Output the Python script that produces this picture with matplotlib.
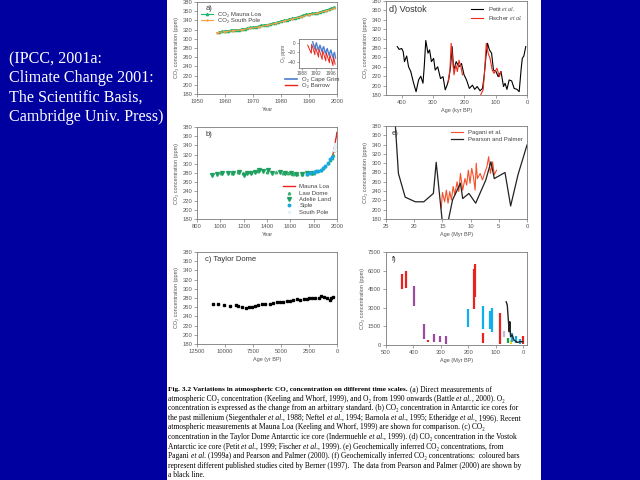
import re
import numpy as np
import matplotlib
matplotlib.use('Agg')
from matplotlib import pyplot as plt
from matplotlib.patches import Rectangle
from matplotlib.lines import Line2D
from matplotlib.text import Annotation

plt.rcParams['font.family'] = ['Liberation Sans', 'DejaVu Sans']
plt.rcParams['mathtext.fontset'] = 'custom'
plt.rcParams['mathtext.rm'] = 'Liberation Serif'
plt.rcParams['mathtext.it'] = 'Liberation Serif:italic'

# ---- (a) direct measurements
ml_year = [1958, 1959, 1960, 1961, 1962, 1963, 1964, 1965, 1966, 1967, 1968, 1969, 1970,
           1971, 1972, 1973, 1974, 1975, 1976, 1977, 1978, 1979, 1980, 1981, 1982, 1983,
           1984, 1985, 1986, 1987, 1988, 1989, 1990, 1991, 1992, 1993, 1994, 1995, 1996,
           1997, 1998, 1999]
ml_co2 = [315.3, 316.0, 316.9, 317.6, 318.4, 319.0, 319.6, 320.0, 321.4, 322.2, 323.0, 324.6,
          325.7, 326.3, 327.5, 329.7, 330.2, 331.0, 332.0, 333.8, 335.4, 336.8, 338.7, 340.1,
          341.4, 343.0, 344.6, 346.0, 347.4, 349.2, 351.6, 353.1, 354.4, 355.6, 356.4, 357.1,
          358.8, 360.9, 362.6, 363.8, 366.6, 368.3]
sp_year = [1957, 1960, 1963, 1966, 1969, 1972, 1975, 1978, 1981, 1984, 1987, 1990, 1993,
           1996, 1999]
sp_co2 = [313.5, 315.5, 317.8, 319.8, 322.8, 325.6, 329.4, 333.5, 338.5, 342.8, 347.4,
          352.4, 355.6, 360.4, 366.0]
o2_barrow_t = [1989.6, 1990.6, 1990.7, 1991.6, 1991.7, 1992.6, 1992.7, 1993.6, 1993.7,
               1994.6, 1994.7, 1995.6, 1995.7, 1996.6, 1996.7, 1997.2]
o2_barrow = [-5, -22, -3, -25, -8, -30, -12, -35, -15, -38, -20, -42, -24, -48, -28, -45]
o2_grim_t = [1991.0, 1991.5, 1992.0, 1992.5, 1993.0, 1993.5, 1994.0, 1994.5, 1995.0,
             1995.5, 1996.0, 1996.5, 1997.0, 1997.3]
o2_grim = [2, -12, 0, -15, -5, -18, -8, -22, -12, -26, -15, -30, -20, -32]

# ---- (b) last millennium
adelie_year = [932, 972, 1018, 1067, 1110, 1159, 1205, 1225, 1263, 1297, 1332, 1363, 1406,
               1447, 1513, 1556, 1607, 1648, 1700, 1742, 1786]
adelie_co2 = [275, 277, 279, 279, 280, 282.5, 275, 280, 280, 282.5, 286, 285, 286, 279,
              282, 281, 279, 277, 277, 279, 280]
law_year = [1006, 1100, 1150, 1190, 1250, 1320, 1400, 1480, 1540, 1580, 1620, 1660, 1700,
            1740, 1780, 1800, 1830, 1860, 1880, 1900, 1920, 1940, 1955, 1965, 1978]
law_co2 = [280, 281, 283, 281, 283, 284, 283, 282, 281, 280, 278, 277, 277, 277, 279, 281,
           284, 287, 291, 296, 301, 309, 313, 319, 331]
siple_year = [1744, 1770, 1800, 1820, 1840, 1860, 1880, 1900, 1920, 1940, 1953]
siple_co2 = [277, 280, 282, 284, 285, 287, 291, 296, 302, 310, 315]
spole_year = [1975, 1980, 1985]
spole_co2 = [330, 337, 344]

# ---- (c) Taylor Dome
taylor_age = [11065, 10616, 10108, 9510, 9031, 8822, 8523, 8134, 7835, 7566, 7327, 7027,
              6728, 6430, 5981, 5682, 5383, 5084, 4785, 4486, 4187, 3887, 3589, 3289, 2990,
              2691, 2482, 2243, 1944, 1645, 1405, 1196, 897, 658, 508, 389]
taylor_co2 = [266, 267, 265, 262, 264.5, 261.6, 261, 259, 260, 261, 263, 264.5, 267, 267,
              268, 270, 271, 272, 272, 273, 273, 274.6, 277, 275, 277, 278, 280, 279, 281,
              280, 284, 282.5, 279, 275, 280, 282.5]

# ---- (d) Vostok
petit_age = [414, 408, 400, 395, 391, 384, 378, 371, 363, 354, 346, 339, 332, 328, 323, 316,
             311, 305, 298, 293, 285, 276, 268, 261, 255, 250, 244, 239, 234, 226, 217, 209,
             201, 193, 184, 174, 167, 159, 150, 142, 137, 131, 126, 120, 113, 107, 99, 92,
             83, 75, 70, 64, 57, 49, 41, 32, 25, 18, 15, 10, 4]
petit_co2 = [283, 277, 279, 272, 251, 263, 240, 230, 208, 187, 212, 220, 205, 240, 296, 269,
             276, 251, 258, 233, 240, 215, 219, 191, 201, 212, 240, 283, 233, 251, 240, 247,
             223, 212, 194, 201, 192, 198, 189, 194, 219, 262, 290, 276, 269, 233, 230, 219,
             230, 198, 205, 192, 212, 210, 194, 192, 187, 240, 258, 263, 283]
fischer_age1 = [252, 246, 242, 237, 233, 227, 222, 217, 211, 206]
fischer_co21 = [208, 233, 290, 254, 223, 244, 230, 254, 240, 223]
fischer_age2 = [148, 140, 135, 130, 124, 118, 111, 105, 96, 88, 83]
fischer_co22 = [180, 191, 233, 290, 269, 258, 233, 226, 237, 219, 230]

# ---- (e) Miocene
pp_age = [23.4, 22.8, 21.6, 19.8, 18.3, 16.6, 16.1, 15.0, 14.0, 13.2, 11.8, 11.4, 10.3,
          9.1, 7.3, 6.4, 5.8, 3.9, 2.9, 1.6, 0.0]
pp_co2 = [393, 278, 227, 217, 217, 235, 302, 172, 174, 221, 257, 224, 235, 214, 264, 303,
          267, 280, 208, 275, 339]
pagani_age = [15.2, 15.0, 14.6, 14.3, 14.0, 13.7, 13.4, 13.1, 12.8, 12.4, 12.1, 11.8, 11.4,
              11.0, 10.7, 10.4, 10.1, 9.8, 9.5, 9.2, 9.0, 8.8, 8.3, 7.9, 7.6, 7.1, 6.8, 6.5,
              6.1, 5.8, 5.4]
pagani_co2 = [203, 237, 217, 242, 214, 239, 221, 250, 232, 260, 239, 278, 242, 267, 253,
              285, 257, 289, 271, 242, 300, 267, 278, 264, 275, 293, 314, 278, 303, 275, 285]

# ---- (f) Phanerozoic bars: age, low, high, colour
bar_age = [442, 427, 396, 363, 347, 326, 302, 280, 202, 180, 174, 147, 145, 121, 114, 84,
           70, 54, 45, 39, 27, 9, 0]
bar_lo = [4554, 4608, 3161, 455, 214, 214, 214, 54, 1420, 2893, 3884, 1286, 134, 1259,
          1018, 54, 670, 134, 54, 268, 134, 54, 54]
bar_hi = [5760, 5974, 4741, 1714, 402, 857, 750, 750, 2893, 6108, 6563, 3134, 991, 2759,
          2947, 2545, 1125, 589, 402, 937, 750, 455, 750]
bar_col = ['red', 'red', 'purple', 'purple', 'red', 'purple', 'purple', 'purple', 'cyan',
           'red', 'red', 'cyan', 'red', 'cyan', 'cyan', 'red', 'lilac', 'green', 'yellow',
           'cyan', 'cyan', 'cyan', 'red']
ppf_age = [61, 57, 54, 50, 47.7, 45, 39, 33, 21, 8.6, 0]
ppf_co2 = [3482, 3214, 2277, 1071, 1875, 670, 804, 402, 214, 268, 268]

# slide texts  (**bold**, *italic*)
side_text = ['(IPCC, 2001a:', 'Climate Change 2001:', 'The Scientific Basis,',
             'Cambridge Univ. Press)']
caption = [
    '**Fig. 3.2 Variations in atmospheric CO\u2082 concentration on different time scales.**'
    ' (a) Direct measurements of',
    'atmospheric CO\u2082 concentration (Keeling and Whorf, 1999), and O\u2082 from 1990 '
    'onwards (Battle *et al.*, 2000). O\u2082',
    'concentration is expressed as the change from an arbitrary standard. (b) CO\u2082 '
    'concentration in Antarctic ice cores for',
    'the past millenium (Siegenthaler *et al.*, 1988; Neftel *et al.*, 1994; Barnola '
    '*et al.*, 1995; Etheridge *et al.*, 1996). Recent',
    'atmospheric measurements at Mauna Loa (Keeling and Whorf, 1999) are shown for '
    'comparison. (c) CO\u2082',
    'concentration in the Taylor Dome Antarctic ice core (Indermuehle *et al.*, 1999). '
    '(d) CO\u2082 concentration in the Vostok',
    'Antarctic ice core (Petit *et al.*, 1999; Fischer *et al.*, 1999). (e) Geochemically '
    'inferred CO\u2082 concentrations, from',
    'Pagani *et al.* (1999a) and Pearson and Palmer (2000). (f) Geochemically inferred '
    'CO\u2082 concentrations:  coloured bars',
    'represent different published studies cited by Berner (1997).  The data from Pearson '
    'and Palmer (2000) are shown by',
    'a black line.',
]

colours = {'red': '#e8231d', 'purple': '#9a4c9e', 'cyan': '#10aeea', 'green': '#12a04a',
           'yellow': '#f4d21c', 'lilac': '#c9b8dc'}
grey = '#7a7a7a'
serif = ['Liberation Serif', 'DejaVu Serif']
co2_label = 'CO\u2082 concentration (ppm)'


def rect(l, t, r, b):
    return [l/640., 1-b/480., (r-l)/640., (b-t)/480.]


def style(ax, fs=4.2):
    for s in ax.spines.values():
        s.set_color(grey)
        s.set_linewidth(0.6)
    ax.tick_params(colors=grey, labelcolor='#555555', labelsize=fs, width=0.5,
                   length=2, pad=1.5)


def co2_axis(ax):
    ax.set_ylim(180, 380)
    ax.set_yticks(np.arange(180, 381, 20))
    ax.set_ylabel(co2_label, fontsize=4, color='#555555', labelpad=2)


def rich_line(fig, x0, y, line, size=5.45, bold_size=5.2):
    # draw one caption line piece by piece, each piece starting where the last ended
    prev = None
    for piece in re.split(r'(\*\*.*?\*\*|\*.*?\*)', line):
        if not piece:
            continue
        kw = dict(fontsize=size, family=serif, va='baseline', ha='left', color='black')
        if piece.startswith('**'):
            piece = piece[2:-2]
            kw.update(fontweight='bold', fontsize=bold_size)
        elif piece.startswith('*'):
            piece = piece[1:-1]
            kw.update(fontstyle='italic')
        if prev is None:
            prev = fig.text(x0, y, piece, **kw)
        else:
            prev = fig.add_artist(Annotation(piece, xy=(1, y),
                                             xycoords=(prev, 'figure fraction'), **kw))


fig = plt.figure(figsize=(6.4, 4.8), dpi=100, facecolor='#0000a0')
fig.add_artist(Rectangle((167/640., 0), (541-167)/640., 1, transform=fig.transFigure,
                         facecolor='white', edgecolor='none', zorder=0))

for i, line in enumerate(side_text):
    fig.text(9/640., 1-(59+19.4*i)/480., line, color='white', fontsize=11.6,
             family='Liberation Serif', va='center', ha='left')

# (a)
ax = fig.add_axes(rect(197, 2, 337, 94))
style(ax)
ax.plot(ml_year, ml_co2, color='#1fb36b', lw=0.8, marker='^', ms=1.6,
        label='CO\u2082 Mauna Loa')
ax.plot(sp_year, sp_co2, color='#f5a04a', lw=0.8, marker='+', ms=2,
        label='CO\u2082 South Pole')
ax.set_xlim(1950, 2000)
ax.set_xticks(np.arange(1950, 2001, 10))
co2_axis(ax)
ax.set_xlabel('Year', fontsize=4, color='#555555', labelpad=2)
ax.text(0.06, 0.97, 'a)', transform=ax.transAxes, fontsize=5.5, va='top', color='#333333')
o2_leg = ax.legend(handles=[Line2D([], [], color='#4a7fd0', lw=1.2, label='O\u2082 Cape Grim'),
                            Line2D([], [], color='#e8231d', lw=1.0, label='O\u2082 Barrow')],
                   loc='lower left', bbox_to_anchor=(0.6, 0.02), fontsize=4.3, frameon=False,
                   handlelength=2, labelspacing=0.2, borderpad=0.2, labelcolor='#444444')
ax.add_artist(o2_leg)
ax.legend(handles=ax.get_lines()[:2], loc='upper left', bbox_to_anchor=(0.0, 0.94),
          fontsize=4.3, frameon=False, handlelength=2, labelspacing=0.1, borderpad=0.2,
          labelcolor='#444444')

axi = fig.add_axes(rect(299, 39, 337, 68))
style(axi, 3.4)
axi.plot(o2_barrow_t, o2_barrow, color='#e8231d', lw=0.7)
axi.plot(o2_grim_t, o2_grim, color='#4a7fd0', lw=1.0)
axi.set_xlim(1987.2, 1997.7)
axi.set_xticks([1988, 1992, 1996])
axi.set_ylim(-53, 8)
axi.set_yticks([0, -20, -40])
axi.set_ylabel('O\u2082 ppm', fontsize=3.6, color='#555555', labelpad=1)
axi.tick_params(length=1.5, pad=1)

# (b)
ax = fig.add_axes(rect(197, 127, 337, 219))
style(ax)
ax.plot(ml_year, ml_co2, color='#e8231d', lw=1.0, label='Mauna Loa')
ax.plot(law_year, law_co2, ls='none', marker='^', ms=1.8, color='#38b070',
        label='Law Dome')
ax.plot(adelie_year, adelie_co2, ls='none', marker='v', ms=2.8, color='#1fa060',
        label='Adelie Land')
ax.plot(siple_year, siple_co2, ls='none', marker='o', ms=1.8, color='#18a8e0',
        label='Siple')
ax.plot(spole_year, spole_co2, ls='none', marker='s', ms=1.5, color='#e6f2fa',
        label='South Pole')
ax.set_xlim(800, 2000)
ax.set_xticks(np.arange(800, 2001, 200))
co2_axis(ax)
ax.set_xlabel('Year', fontsize=4, color='#555555', labelpad=2)
ax.text(0.06, 0.96, 'b)', transform=ax.transAxes, fontsize=5.5, va='top', color='#333333')
ax.legend(loc='lower right', bbox_to_anchor=(0.99, 0.0), fontsize=4.3, frameon=False,
          handlelength=2, labelspacing=0.2, borderpad=0.2, labelcolor='#444444')

# (c)
ax = fig.add_axes(rect(197, 252, 337, 344))
style(ax)
ax.plot(taylor_age, taylor_co2, ls='none', marker='s', ms=1.6, color='black')
ax.set_xlim(12500, 0)
ax.set_xticks([12500, 10000, 7500, 5000, 2500, 0])
co2_axis(ax)
ax.set_xlabel('Age (yr BP)', fontsize=4, color='#555555', labelpad=2)
ax.text(0.06, 0.96, 'c) Taylor Dome', transform=ax.transAxes, fontsize=5.5, va='top',
        color='#333333')

# (d)
ax = fig.add_axes(rect(386, 1, 527, 95))
style(ax)
ax.plot(petit_age, petit_co2, color='black', lw=0.8, label='Petit $\\mathit{et\\ al.}$')
ax.plot(fischer_age1, fischer_co21, color='#f02a1a', lw=0.8,
        label='Fischer $\\mathit{et\\ al.}$')
ax.plot(fischer_age2, fischer_co22, color='#f02a1a', lw=0.8)
ax.set_xlim(450, 0)
ax.set_xticks([400, 300, 200, 100, 0])
co2_axis(ax)
ax.set_xlabel('Age (kyr BP)', fontsize=4, color='#555555', labelpad=2)
ax.text(0.02, 0.96, 'd) Vostok', transform=ax.transAxes, fontsize=6.5, va='top',
        color='#333333')
ax.legend(loc='upper right', fontsize=4.3, frameon=False, handlelength=2,
          labelspacing=0.2, borderpad=0.2, labelcolor='#444444')

# (e)
ax = fig.add_axes(rect(386, 126, 527, 219))
style(ax)
ax.plot(pagani_age, pagani_co2, color='#f4502a', lw=0.8, label='Pagani et al.')
ax.plot(pp_age, pp_co2, color='#222222', lw=0.9, label='Pearson and Palmer')
ax.set_xlim(25, 0)
ax.set_xticks([25, 20, 15, 10, 5, 0])
co2_axis(ax)
ax.set_xlabel('Age (Myr BP)', fontsize=4, color='#555555', labelpad=2)
ax.text(0.04, 0.96, 'e)', transform=ax.transAxes, fontsize=5.5, va='top', color='#333333')
ax.legend(loc='upper right', fontsize=4.3, frameon=False, handlelength=2,
          labelspacing=0.2, borderpad=0.2, labelcolor='#444444')

# (f)
ax = fig.add_axes(rect(386, 252, 527, 345))
style(ax)
ax.vlines(bar_age, bar_lo, bar_hi, colors=[colours[c] for c in bar_col], lw=1.6)
ax.plot(ppf_age, ppf_co2, color='#222222', lw=1.0)
ax.set_xlim(500, -15)
ax.set_xticks([500, 400, 300, 200, 100, 0])
ax.set_ylim(0, 7500)
ax.set_yticks(np.arange(0, 7501, 1500))
ax.set_ylabel(co2_label, fontsize=4, color='#555555', labelpad=2)
ax.set_xlabel('Age (Myr BP)', fontsize=4, color='#555555', labelpad=2)
ax.text(0.04, 0.96, 'f)', transform=ax.transAxes, fontsize=5.5, va='top', color='#333333')

# caption
for i, line in enumerate(caption):
    rich_line(fig, 168/640., 1-(391+9.6*i)/480., line)

fig.savefig('out.png', dpi=100, facecolor=fig.get_facecolor())
